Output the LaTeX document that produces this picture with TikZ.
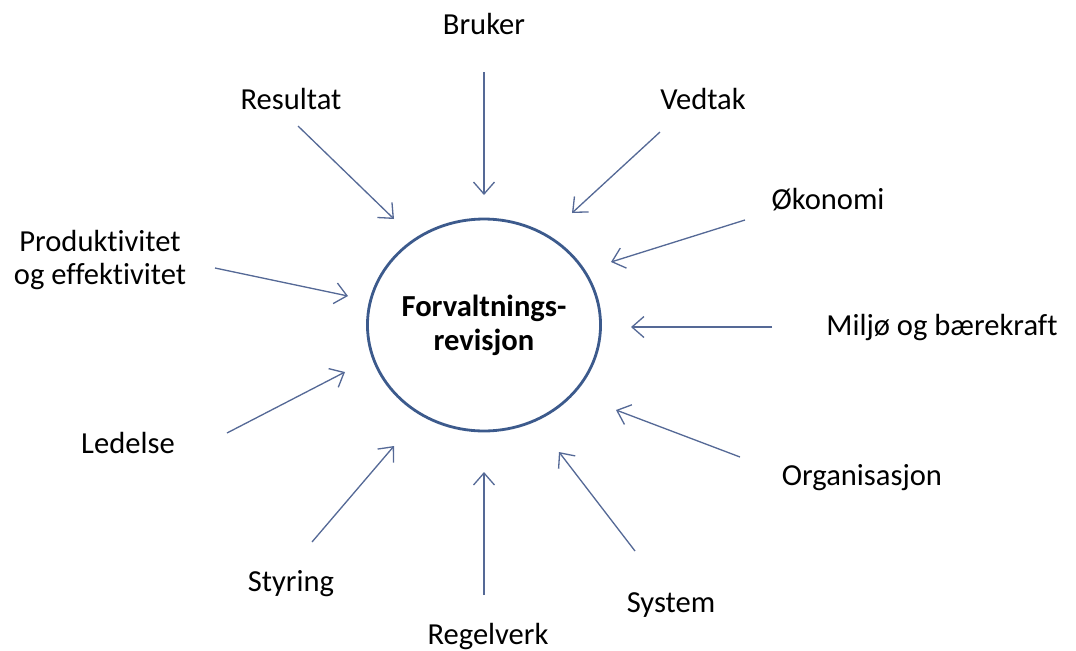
\documentclass[tikz,border=0pt]{standalone}
\usepackage{fontspec}
\setmainfont[Ligatures=NoCommon]{Carlito}
\usetikzlibrary{arrows.meta}
\usetikzlibrary{shapes.geometric}

\definecolor{ringblue}{RGB}{60,90,140}
\definecolor{arrowblue}{RGB}{85,105,150}

\tikzset{
  lbl/.style={font=\fontsize{17.4}{18.8}\selectfont, text=black, align=center, inner sep=0pt, yshift=-1pt},
  inarrow/.style={draw=arrowblue, line width=0.75pt, -{Straight Barb[length=2.4mm,width=4.2mm]}}
}

\begin{document}
\begin{tikzpicture}[x=0.02cm,y=-0.02cm]
\useasboundingbox (0,0) rectangle (1076,650);
\node[ellipse,draw=ringblue,line width=1.6pt,minimum width=4.62cm,minimum height=4.24cm,inner sep=0pt,
      font=\fontsize{17.4}{19.3}\selectfont\bfseries,align=center] (rev) at (484,325) {Forvaltnings-\\revisjon};

\node[lbl] (bruker) at (484,22) {Bruker};
\node[lbl] (resultat) at (291,97) {Resultat};
\node[lbl] (vedtak) at (703,97) {Vedtak};
\node[lbl] (okonomi) at (828,198) {Økonomi};
\node[lbl] (produktivitet) at (100,258) {Produktivitet\\og effektivitet};
\node[lbl] (miljo) at (942,326) {Miljø og bærekraft};
\node[lbl] (ledelse) at (128,441) {Ledelse};
\node[lbl] (organisasjon) at (862,476) {Organisasjon};
\node[lbl] (styring) at (291,582) {Styring};
\node[lbl] (system) at (671,603) {System};
\node[lbl] (regelverk) at (488,635) {Regelverk};

% start and end points of the arrows
\coordinate (brukerA) at (484,72);   \coordinate (brukerB) at (484,195);
\coordinate (vedtakA) at (660,132);  \coordinate (vedtakB) at (572,213);
\coordinate (okonomiA) at (745,220); \coordinate (okonomiB) at (611,262);
\coordinate (miljoA) at (772,327);   \coordinate (miljoB) at (631,327);
\coordinate (orgA) at (740,457);     \coordinate (orgB) at (616,410);
\coordinate (systemA) at (635,551);  \coordinate (systemB) at (559,452);
\coordinate (regelA) at (484,595);   \coordinate (regelB) at (484,472);
\coordinate (styringA) at (312,542); \coordinate (styringB) at (394,446);
\coordinate (ledelseA) at (227,433); \coordinate (ledelseB) at (345,372);
\coordinate (prodA) at (215,268);    \coordinate (prodB) at (348,296);
\coordinate (resultatA) at (298,126);\coordinate (resultatB) at (394,219);

\foreach \a/\b in {brukerA/brukerB, vedtakA/vedtakB, okonomiA/okonomiB, miljoA/miljoB,
                   orgA/orgB, systemA/systemB, regelA/regelB, styringA/styringB,
                   ledelseA/ledelseB, prodA/prodB, resultatA/resultatB}
  \draw[inarrow] (\a) -- (\b);

\end{tikzpicture}
\end{document}
